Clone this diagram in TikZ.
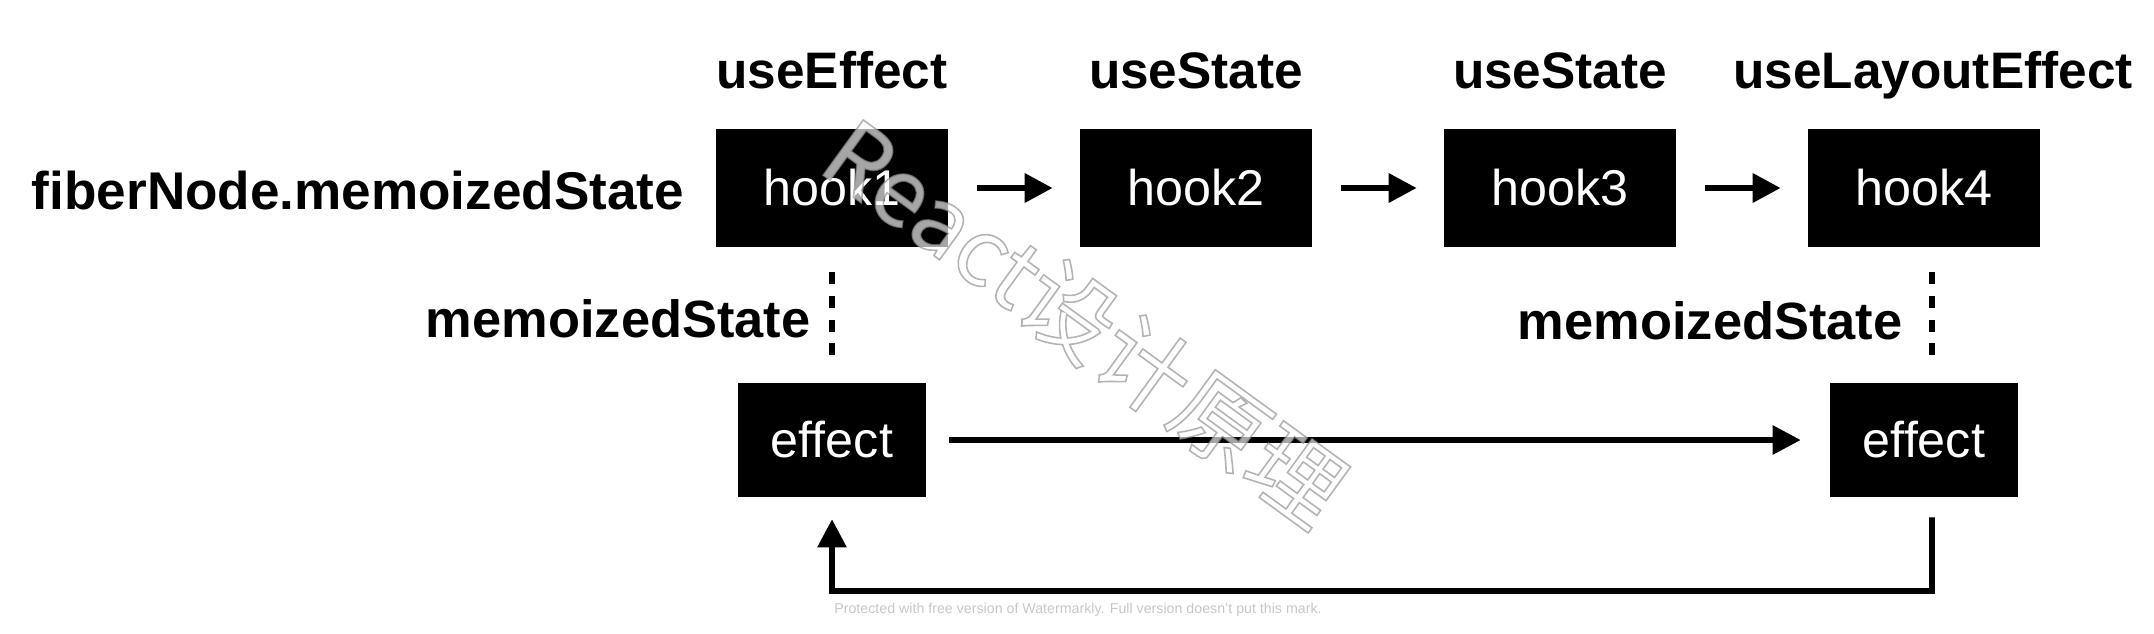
\documentclass[tikz,border=0pt]{standalone}
\usepackage{fontspec}
\setmainfont{Liberation Sans}
\newfontfamily\cjk{Noto Sans CJK SC}
\usetikzlibrary{arrows.meta}
\begin{document}
\begin{tikzpicture}[x=0.01cm,y=-0.01cm,
  hookbox/.style={fill=black,text=white,minimum width=2.31cm,minimum height=1.18cm,inner sep=0pt,font=\fontsize{14.3}{17}\selectfont},
  effbox/.style={fill=black,text=white,minimum width=1.87cm,minimum height=1.13cm,inner sep=0pt,font=\fontsize{14.3}{17}\selectfont},
  toplbl/.style={anchor=base,inner sep=0pt,font=\bfseries\fontsize{14.6}{17}\selectfont},
  fiblbl/.style={anchor=base,inner sep=0pt,font=\bfseries\fontsize{15.1}{18}\selectfont},
  mslbl/.style={anchor=base east,inner sep=0pt,font=\bfseries\fontsize{14.9}{17}\selectfont},
  arr/.style={line width=1.8pt,-{Triangle[length=8pt,width=8pt]}},
  larr/.style={line width=1.6pt,-{Triangle[length=8pt,width=8pt]}},
  dashln/.style={line width=1.6pt,dash pattern=on 3.4pt off 3.4pt},
  wmtext/.style={rotate=-36,inner sep=0pt,text=white,text opacity=0.65,font=\cjk\fontsize{26.5}{30}\selectfont}]

\useasboundingbox (0,0) rectangle (2154,633);

% hooks
\node[hookbox] (h1) at (832,188) {hook1};
\node[hookbox] (h2) at (1196,188) {hook2};
\node[hookbox] (h3) at (1560,188) {hook3};
\node[hookbox] (h4) at (1924,188) {hook4};

% top labels
\node[toplbl] (t1) at (832,88) {useEffect};
\node[toplbl] (t2) at (1196,88) {useState};
\node[toplbl] (t3) at (1560,88) {useState};
\node[toplbl] (t4) at (1933,88) {useLayoutEffect};

\node[fiblbl] (fiber) at (358,209) {fiberNode.memoizedState};

% effects
\node[effbox] (e1) at (832,440) {effect};
\node[effbox] (e2) at (1924,440) {effect};

% memoizedState labels
\node[mslbl] (ms1) at (811,337) {memoizedState};
\node[mslbl] (ms2) at (1903,339) {memoizedState};

% connectors
\draw[arr, shorten <=0.29cm, shorten >=0.27cm] (h1.east) -- (h2.west);
\draw[arr, shorten <=0.29cm, shorten >=0.27cm] (h2.east) -- (h3.west);
\draw[arr, shorten <=0.29cm, shorten >=0.27cm] (h3.east) -- (h4.west);

\draw[dashln, shorten <=0.24cm, shorten >=0.22cm] (h1.south) -- (e1.north);
\draw[dashln, shorten <=0.24cm, shorten >=0.22cm] ([xshift=0.08cm]h4.south) -- ([xshift=0.08cm]e2.north);

\draw[larr, shorten <=0.23cm, shorten >=0.29cm] (e1.east) -- (e2.west);

\coordinate (rb) at (1932,591);
\draw[larr, shorten <=0.2cm, shorten >=0.22cm] ([xshift=0.08cm]e2.south) -- (rb) -| (e1.south);

% watermark (white fill, grey outline)
\node[wmtext] (wm) at (1085,322) {\special{pdf:code 0.55 G 0.45 w 2 Tr}React设计原理\special{pdf:code 0 Tr}};

\node[inner sep=0pt,text=black!22] (wmk) at (1078,610) {\resizebox{4.87cm}{!}{\fontsize{8}{9}\selectfont Protected with free version of Watermarkly. Full version doesn't put this mark.}};
\end{tikzpicture}
\end{document}
